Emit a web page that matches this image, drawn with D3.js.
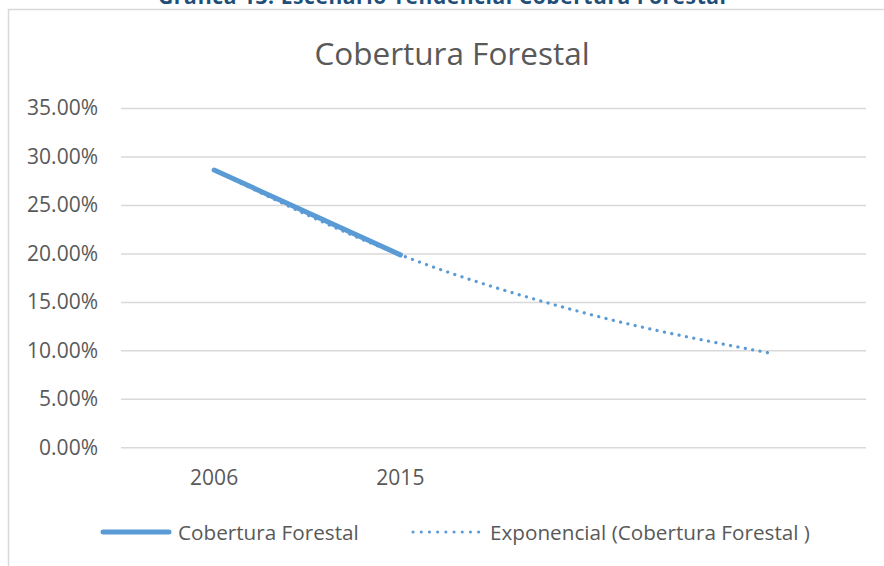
<!DOCTYPE html>
<html>
<head>
<meta charset="utf-8">
<script src="https://cdn.jsdelivr.net/npm/d3@7"></script>
<style>
  body { margin: 0; background: #fff; }
  text { font-family: "Open Sans", sans-serif; }
</style>
</head>
<body>
<div id="chart"></div>
<script>
// data
const tickLabels = ["2006", "2015", "", ""];
const cobertura = [0.286, 0.1985];            // observed series (2006, 2015)
const tendencia = [0.286, 0.1985, 0.138, 0.0966]; // exponential trendline
const yTicks = [0, 0.05, 0.10, 0.15, 0.20, 0.25, 0.30, 0.35];

const width = 884, height = 566;
const blue = "#5B9BD5", grey = "#595959", grid = "#D9D9D9";

const svg = d3.select("#chart").append("svg")
  .attr("width", width)
  .attr("height", height);

// frame of the chart object (right / bottom edges are off the page)
svg.append("rect")
  .attr("x", 8.5).attr("y", 9.5)
  .attr("width", 900).attr("height", 600)
  .attr("fill", "#fff").attr("stroke", grid).attr("stroke-width", 1.5);

// caption above the chart, cut off by the top edge like in the source
svg.append("text")
  .attr("x", 442).attr("y", 3.5)
  .attr("text-anchor", "middle")
  .attr("fill", "#1F4E79")
  .attr("font-weight", "bold")
  .attr("font-size", 21)
  .attr("textLength", 568)
  .text("Gráfica 13. Escenario Tendencial Cobertura Forestal");

svg.append("text")
  .attr("x", 452).attr("y", 65)
  .attr("text-anchor", "middle")
  .attr("fill", grey)
  .attr("font-size", 31.5)
  .text("Cobertura Forestal");

const x = d3.scaleBand().domain(d3.range(tickLabels.length)).range([121, 866]);
const y = d3.scaleLinear().domain([0, 0.35]).range([447.3, 108]);
const cx = i => x(i) + x.bandwidth() / 2;

// gridlines + y axis
const yAxis = svg.append("g")
  .attr("transform", "translate(121,0)")
  .call(d3.axisLeft(y).tickValues(yTicks).tickFormat(d3.format(".2%"))
    .tickSize(-(866 - 121)).tickPadding(23));
yAxis.select(".domain").remove();
yAxis.selectAll("line").attr("stroke", grid).attr("stroke-width", 1.5);
yAxis.selectAll("text").attr("fill", grey).attr("font-size", 21)
  .attr("font-family", "Open Sans, sans-serif");

// x axis labels
const xAxis = svg.append("g")
  .attr("transform", "translate(0,447.3)")
  .call(d3.axisBottom(x).tickFormat(i => tickLabels[i]).tickSize(0).tickPadding(23));
xAxis.select(".domain").remove();
xAxis.selectAll("text").attr("fill", grey).attr("font-size", 21)
  .attr("font-family", "Open Sans, sans-serif");

const line = d3.line().x((d, i) => cx(i)).y(d => y(d));

svg.append("path")
  .datum(cobertura)
  .attr("d", line)
  .attr("fill", "none")
  .attr("stroke", blue)
  .attr("stroke-width", 5)
  .attr("stroke-linecap", "round");

svg.append("path")
  .datum(tendencia)
  .attr("d", line.curve(d3.curveMonotoneX))
  .attr("fill", "none")
  .attr("stroke", blue)
  .attr("stroke-width", 3.2)
  .attr("stroke-linecap", "round")
  .attr("stroke-dasharray", "0.1 7.4");

// legend
const lg = svg.append("g").attr("transform", "translate(0,532)");
lg.append("line")
  .attr("x1", 103).attr("x2", 169)
  .attr("stroke", blue).attr("stroke-width", 5).attr("stroke-linecap", "round");
lg.append("text")
  .attr("x", 178).attr("y", 7.5)
  .attr("fill", grey).attr("font-size", 20.7)
  .text("Cobertura Forestal");
lg.append("line")
  .attr("x1", 413).attr("x2", 479)
  .attr("stroke", blue).attr("stroke-width", 3)
  .attr("stroke-linecap", "round").attr("stroke-dasharray", "0.1 8.1");
lg.append("text")
  .attr("x", 490).attr("y", 7.5)
  .attr("fill", grey).attr("font-size", 20.7)
  .text("Exponencial (Cobertura Forestal )");
</script>
</body>
</html>
